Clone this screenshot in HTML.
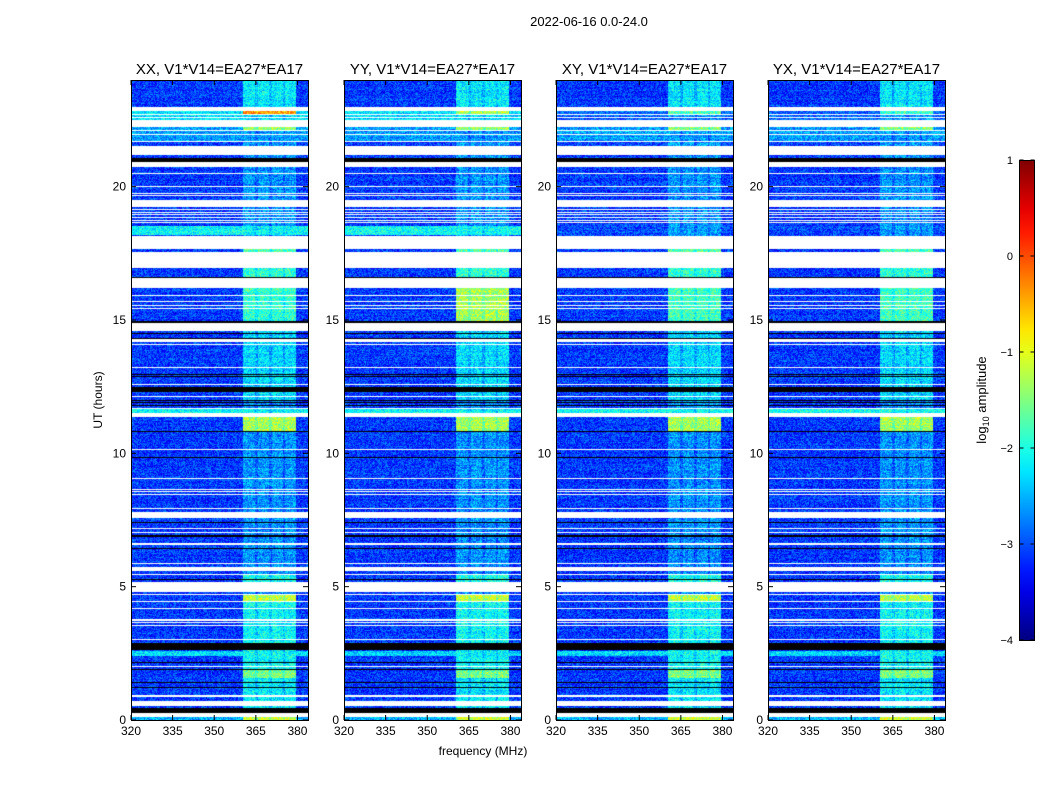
<!DOCTYPE html>
<html><head><meta charset="utf-8">
<style>
body{margin:0;background:#fff;font-family:"Liberation Sans",sans-serif;}
#wrap{position:relative;width:1050px;height:800px;overflow:hidden;background:#fff;}
.t{position:absolute;white-space:nowrap;color:#000;}
canvas{position:absolute;}
</style></head><body>
<div id="wrap">
<div class="t" style="left:489px;top:14px;width:200px;text-align:center;font-size:13px">2022-06-16 0.0-24.0</div>
<svg id="axes" width="1050" height="800" style="position:absolute;left:0;top:0"></svg>
</div>
<script>
// ---- data (hours UT, log10 amplitude) ----
const panelTitles = ["XX, V1*V14=EA27*EA17","YY, V1*V14=EA27*EA17","XY, V1*V14=EA27*EA17","YX, V1*V14=EA27*EA17"];
const panelLefts = [131,344,556,768];
const xTicks = [320,335,350,365,380];
const yTicks = [0,5,10,15,20];
const cbTicks = [1,0,-1,-2,-3,-4];
const freqRange = [320,383.8];
const timeRange = [0,24];
const bandEdges = [360.3,379.6];
const bandGaps = [365.2,370.2,375.2];
const whiteFlags = [[22.85,23.0],[22.68,22.72],[22.58,22.62],[22.25,22.5],[22.08,22.12],[21.94,21.98],[21.67,21.71],[21.19,21.52],[20.75,20.91],[20.48,20.52],
 [19.98,20.03],[19.9,19.93],[19.82,19.85],[19.74,19.77],[19.66,19.69],[19.25,19.5],[19.13,19.16],[19.03,19.06],[18.93,18.96],[18.83,18.86],[18.73,18.76],[18.64,18.67],
 [17.66,18.15],[16.96,17.56],[16.19,16.56],[15.89,15.93],[15.69,15.73],[15.54,15.58],[15.42,15.46],[14.59,14.9],[14.23,14.27],[14.17,14.2],[14.07,14.11],[13.19,13.23],
 [12.57,12.61],[12.1,12.14],[11.67,11.71],[11.37,11.51],[10.13,10.17],[9.04,9.08],[8.63,8.67],[8.54,8.58],[8.42,8.46],[7.92,7.96],[7.56,7.81],[7.17,7.21],[7.01,7.05],
 [6.58,6.62],[5.85,5.89],[5.6,5.75],[5.45,5.49],[4.81,5.19],[4.7,4.74],[4.42,4.46],[4.17,4.21],[3.73,3.77],[3.63,3.67],[3.51,3.55],[3.01,3.05],[1.98,2.02],
 [0.88,0.92],[0.52,0.71],[0.1,0.25]];
const blackFlags = [[20.9,21.06],[20.05,20.08],[19.56,19.59],[16.56,16.62],[14.9,14.96],[14.49,14.52],[14.3,14.33],[12.93,12.96],[12.87,12.9],[12.31,12.5],[11.98,12.01],
 [11.89,11.92],[11.78,11.81],[10.8,10.83],[10.52,10.55],[9.84,9.87],[7.38,7.42],[7.34,7.36],[6.88,6.92],[6.43,6.46],[5.24,5.27],[2.63,2.88],[2.14,2.17],[1.87,1.9],
 [1.4,1.44],[1.3,1.33],[1.19,1.23],[0.25,0.44]];
const bgLevels = [[22.5,22.85,-2.3],[21.7,22.25,-2.6],[18.19,18.54,-2.1],[11.51,11.66,-2.1],[2.4,2.6,-2.3],[0,0.1,-2.5]];
const bandLevels = [[22.72,22.85,-0.4],[22.1,22.25,-1.4],[17.56,17.66,-1.7],[16.62,16.96,-1.9],[14.96,16.19,-1.9],[12.0,14.59,-2.3],[10.83,11.36,-1.3],
 [5.19,5.47,-2.0],[4.46,4.7,-1.2],[1.9,4.42,-2.1],[1.56,1.87,-1.5],[0.44,1.56,-2.2],[23.0,24,-2.2],[0,0.1,-1.1]];
const yyBandLevels = [[22.72,22.85,-1.3],[14.96,16.19,-1.3]];
const xyBandLevels = [[22.72,22.85,-1.8],[14.96,16.19,-1.8],[18.19,18.54,-2.6]];
const xyBgLevels = [[18.19,18.54,-3.0],[22.5,22.85,-2.9]];
const bgDefault = -3.1, bandDefault = -2.65;
</script>
<script>
const NS="http://www.w3.org/2000/svg";
const svg=document.getElementById('axes');
const wrap=document.getElementById('wrap');
const PT=80,PB=720,PW=177,PH=PB-PT;
function yOf(h){return PB-(h-timeRange[0])/(timeRange[1]-timeRange[0])*PH;}
function xOf(f,L){return L+(f-freqRange[0])/(freqRange[1]-freqRange[0])*PW;}
function clamp(v){return v<0?0:v>1?1:v;}
function jet(v){const t=clamp((v+4)/5);return [clamp(1.5-Math.abs(4*t-3))*255,clamp(1.5-Math.abs(4*t-2))*255,clamp(1.5-Math.abs(4*t-1))*255];}
function inAny(list,h){for(const s of list){if(h>=s[0]&&h<s[1])return true;}return false;}
function lvl(list,h,d){for(const s of list){if(h>=s[0]&&h<s[1])return s[2];}return d;}
function hash(a,b){let x=(a*374761393+b*668265263)|0;x=(x^(x>>>13))*1274126177|0;return ((x^(x>>>16))>>>0)/4294967296;}
function mk(tag,attrs,name){const e=document.createElementNS(NS,tag);for(const k in attrs)e.setAttribute(k,attrs[k]);
 
 
 svg.appendChild(e);return e;}
function txt(x,y,s,size,anchor,name,rot){const e=mk('text',{x:x,y:y,'font-size':size,'text-anchor':anchor||'middle','font-family':'Liberation Sans, sans-serif'},name);
 if(rot)e.setAttribute('transform','rotate(-90 '+x+' '+y+')');e.textContent=s;return e;}

panelLefts.forEach((L,p)=>{
 const c=document.createElement('canvas');c.width=PW;c.height=PH;c.style.left=L+'px';c.style.top=PT+'px';
 
 
 wrap.insertBefore(c,svg);
 const ctx=c.getContext('2d');const img=ctx.createImageData(PW,PH);
 const bandOv=p===1?yyBandLevels:(p>=2?xyBandLevels:[]);
 const bgOv=p>=2?xyBgLevels:[];
 for(let py=0;py<PH;py++){
  const h=timeRange[1]-(py+0.5)/PH*(timeRange[1]-timeRange[0]);
  const white=inAny(whiteFlags,h),black=inAny(blackFlags,h);
  const bg=lvl(bgOv,h,lvl(bgLevels,h,bgDefault));
  const bd=lvl(bandOv,h,lvl(bandLevels,h,bandDefault));
  const rowN=(hash(py,p*7+3)-0.5)*0.2;
  for(let px=0;px<PW;px++){
   const i=(py*PW+px)*4;let col;
   if(white)col=[255,255,255];else if(black)col=[0,0,0];
   else{
    const f=freqRange[0]+(px+0.5)/PW*(freqRange[1]-freqRange[0]);
    let v=bg;
    if(f>=bandEdges[0]&&f<=bandEdges[1]){v=Math.max(bg,bd);for(const g of bandGaps){if(Math.abs(f-g)<0.45)v-=0.25;}}
    v+=(hash(px+p*1000,py)-0.5)*0.85+rowN;
    col=jet(v);
   }
   img.data[i]=col[0];img.data[i+1]=col[1];img.data[i+2]=col[2];img.data[i+3]=255;
  }
 }
 ctx.putImageData(img,0,0);
 mk('rect',{x:L+0.5,y:PT+0.5,width:PW,height:PH,fill:'none',stroke:'#000','stroke-width':1},'panel-frame-'+(p+1));
 txt(L+PW/2,74,panelTitles[p],15,'middle','panel-title-'+(p+1));
 xTicks.forEach(f=>{const x=xOf(f,L);
  mk('line',{x1:x,y1:PB,x2:x,y2:PB-5,stroke:'#000'},'x-tick');
  mk('line',{x1:x,y1:PT,x2:x,y2:PT+5,stroke:'#000'},'x-tick-top');
  txt(x,735,String(f),12,'middle','x-tick-label');});
 yTicks.forEach(h=>{const y=yOf(h);
  mk('line',{x1:L,y1:y,x2:L+5,y2:y,stroke:'#000'},'y-tick');
  mk('line',{x1:L+PW,y1:y,x2:L+PW-5,y2:y,stroke:'#000'},'y-tick-right');
  txt(L-5,y+4,String(h),12,'end','y-tick-label');});
});
txt(483,755,'frequency (MHz)',12,'middle','x-axis-title');
txt(102,400,'UT (hours)',12,'middle','y-axis-title',true);
// colorbar
const defs=mk('defs',{},'defs');
const lg=document.createElementNS(NS,'linearGradient');lg.setAttribute('id','jetg');lg.setAttribute('x1','0');lg.setAttribute('y1','1');lg.setAttribute('x2','0');lg.setAttribute('y2','0');
for(let k=0;k<=20;k++){const v=-4+5*k/20;const c=jet(v);const s=document.createElementNS(NS,'stop');s.setAttribute('offset',k/20);s.setAttribute('stop-color','rgb('+c.map(Math.round).join(',')+')');lg.appendChild(s);}
defs.appendChild(lg);
mk('rect',{x:1019.5,y:160.5,width:15,height:480,fill:'url(#jetg)',stroke:'#000'},'colorbar');
cbTicks.forEach(v=>{const y=640-(v+4)/5*480;
 mk('line',{x1:1019.5,y1:y,x2:1023.5,y2:y,stroke:'#000'},'colorbar-tick');
 mk('line',{x1:1034.5,y1:y,x2:1030.5,y2:y,stroke:'#000'},'colorbar-tick-right');
 txt(1013,y+4,v<0?'\u2212'+(-v):String(v),11,'end','colorbar-tick-label');});
const ct=txt(986,400,'',13,'middle','colorbar-title',true);
ct.innerHTML='log<tspan font-size="9" dy="3">10</tspan><tspan dy="-3"> amplitude</tspan>';
</script>
</body></html>
